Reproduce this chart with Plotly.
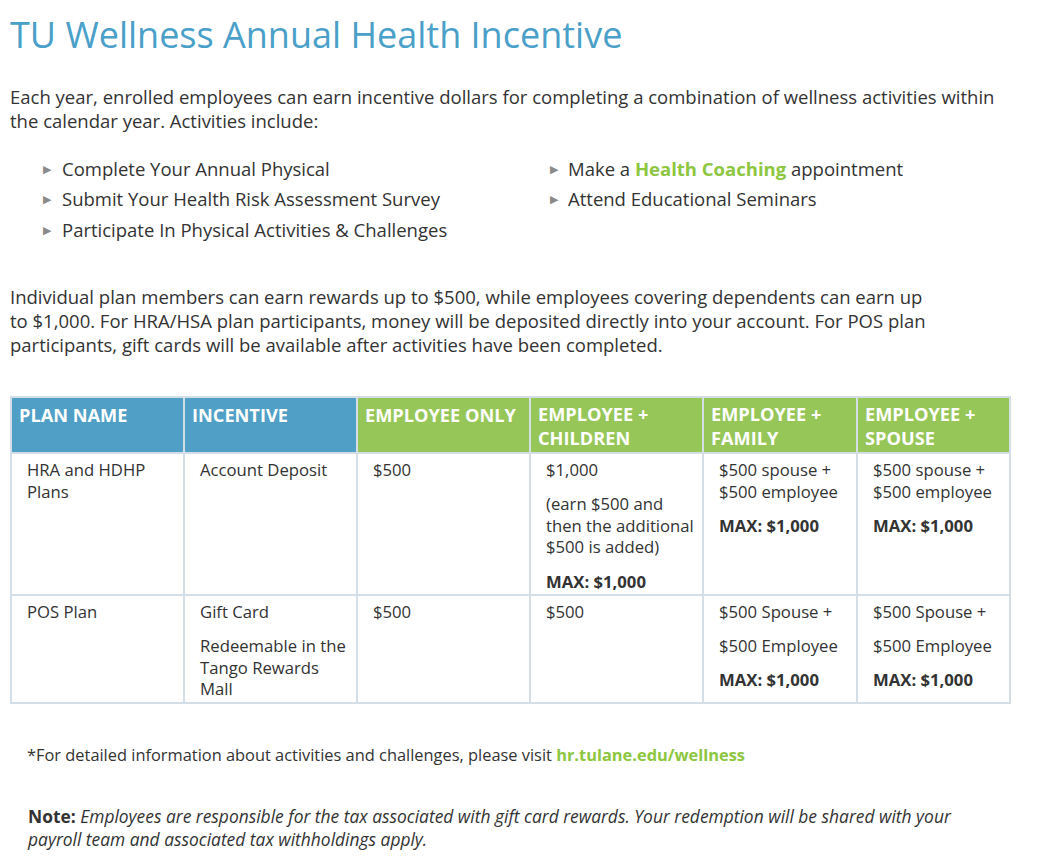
import plotly.graph_objects as go

# ---------------- data ----------------
title = "TU Wellness Annual Health Incentive"
intro_lines = [
    "Each year, enrolled employees can earn incentive dollars for completing a combination of wellness activities within",
    "the calendar year. Activities include:",
]
bullets_left = [
    "Complete Your Annual Physical",
    "Submit Your Health Risk Assessment Survey",
    "Participate In Physical Activities & Challenges",
]
bullets_right = [
    "Make a <b><span style='color:#8DC63F'>Health Coaching</span></b> appointment",
    "Attend Educational Seminars",
]
rewards_lines = [
    "Individual plan members can earn rewards up to $500, while employees covering dependents can earn up",
    "to $1,000. For HRA/HSA plan participants, money will be deposited directly into your account. For POS plan",
    "participants, gift cards will be available after activities have been completed.",
]
headers = ["PLAN NAME", "INCENTIVE", "EMPLOYEE ONLY",
           "EMPLOYEE +<br>CHILDREN", "EMPLOYEE +<br>FAMILY", "EMPLOYEE +<br>SPOUSE"]
header_groups = ["plan", "plan", "tier", "tier", "tier", "tier"]
row_hra = [
    [["HRA and HDHP", "Plans"]],
    [["Account Deposit"]],
    [["$500"]],
    [["$1,000"], ["(earn $500 and", "then the additional", "$500 is added)"], ["<b>MAX: $1,000</b>"]],
    [["$500 spouse +", "$500 employee"], ["<b>MAX: $1,000</b>"]],
    [["$500 spouse +", "$500 employee"], ["<b>MAX: $1,000</b>"]],
]
row_pos = [
    [["POS Plan"]],
    [["Gift Card"], ["Redeemable in the", "Tango Rewards", "Mall"]],
    [["$500"]],
    [["$500"]],
    [["$500 Spouse +"], ["$500 Employee"], ["<b>MAX: $1,000</b>"]],
    [["$500 Spouse +"], ["$500 Employee"], ["<b>MAX: $1,000</b>"]],
]
table_rows = [row_hra, row_pos]
footnote = "*For detailed information about activities and challenges, please visit <b><span style='color:#8DC63F'>hr.tulane.edu/wellness</span></b>"
note_lines = [
    "<b>Note:</b> <i>Employees are responsible for the tax associated with gift card rewards. Your redemption will be shared with your</i>",
    "<i>payroll team and associated tax withholdings apply.</i>",
]

# ---------------- style / layout constants ----------------
W, H = 1042, 868
OFF = 8  # page body margin
FONT = "Open Sans"
TEXT = "#333333"
BLUE = "#4F9FC6"
GREEN = "#96C658"
BORDER = "#D3DEE6"
BODY = 18.5
CELL = 16.7
col_widths = [173, 173, 173, 173, 154, 153]
table_left, table_top, header_h = 11, 397, 56
line_h, para_gap, pad_top, pad_bottom = 22, 12, 16, 14

ann = []
shapes = []

def para(x, y_first, lines, size=BODY, color=TEXT, family=FONT):
    """One annotation per paragraph; y_first is the centre of its first line."""
    y_mid = y_first + (len(lines) - 1) * line_h / 2
    ann.append(dict(x=x, y=y_mid, xref="x", yref="y", text="<br>".join(lines),
                    showarrow=False, xanchor="left", yanchor="middle", align="left",
                    borderpad=0, font=dict(family=family, size=size, color=color)))

# title
para(9, 34, [title], size=36, color="#4AA0C8")
# intro
para(9, 97, intro_lines)
# bullets
for i, s in enumerate(bullets_left):
    y = 168 + i * 30.5
    para(42, y, ["▶"], size=11, color="#8A8A8A")
    para(61, y, [s])
for i, s in enumerate(bullets_right):
    y = 168 + i * 30.5
    para(549, y, ["▶"], size=11, color="#8A8A8A")
    para(567, y, [s])
# rewards paragraph
para(9, 298, rewards_lines)

# table
col_x = [table_left]
for w in col_widths:
    col_x.append(col_x[-1] + w)

# header
for j, h in enumerate(headers):
    fill = BLUE if header_groups[j] == "plan" else GREEN
    shapes.append(dict(type="rect", xref="x", yref="y", x0=col_x[j], x1=col_x[j + 1],
                       y0=table_top, y1=table_top + header_h, fillcolor=fill,
                       line=dict(color=BORDER, width=2), layer="below"))
    parts = ["<b>" + p + "</b>" for p in h.split("<br>")]
    para(col_x[j] + 7, table_top + 18, parts, size=18.2, color="white")

# body rows
y_top = table_top + header_h
for row in table_rows:
    extents = []
    for cell in row:
        n_lines = sum(len(p) for p in cell)
        extents.append((n_lines - 1) * line_h + (len(cell) - 1) * para_gap)
    row_h = pad_top + max(extents) + pad_bottom
    for j, cell in enumerate(row):
        shapes.append(dict(type="rect", xref="x", yref="y", x0=col_x[j], x1=col_x[j + 1],
                           y0=y_top, y1=y_top + row_h, fillcolor="white",
                           line=dict(color=BORDER, width=2), layer="below"))
        y = y_top + pad_top
        for p in cell:
            para(col_x[j] + 15, y, p, size=CELL)
            y += len(p) * line_h + para_gap
    y_top += row_h

# footnotes
para(26, 754, [footnote], size=16.4)
para(26, 816, note_lines, size=17.4)

fig = go.Figure()
fig.update_layout(
    width=W - OFF, height=H - OFF, margin=dict(l=0, r=0, t=0, b=0),
    paper_bgcolor="white", plot_bgcolor="white",
    xaxis=dict(range=[OFF, W], visible=False, fixedrange=True),
    yaxis=dict(range=[H, OFF], visible=False, fixedrange=True),
    annotations=ann, shapes=shapes, showlegend=False,
)
fig.write_html("out.html", config={"displayModeBar": False})
